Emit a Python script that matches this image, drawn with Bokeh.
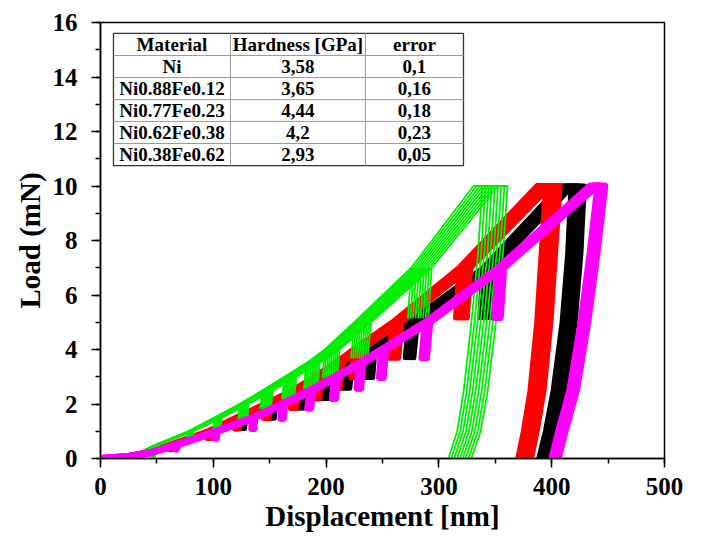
from bokeh.plotting import figure
from bokeh.models import Range1d, SingleIntervalTicker
from bokeh.embed import file_html
from bokeh.resources import INLINE
from bokeh.core.properties import value

# ---------------- data ----------------
START_LOADS = [0.0, 0.07, 0.22]                      # mN, initial loading
STEP_LOADS = [0.5, 1.0, 1.5, 2.0, 2.5, 3.0, 3.5, 4.0, 5.0, 7.0, 10.0]  # mN, cycle peaks
STEP_BOTTOMS = [0.35, 0.75, 1.1, 1.48, 1.85, 2.2, 2.58, 2.97, 3.7, 5.17]  # mN, partial unload ends
UNLOAD_LOADS = [7.5, 5.0, 2.5, 1.0, 0.0]             # mN, final unloading

# black
black_start_h = [0, 23, 43]
black_peak_h = [65, 100, 127, 153, 179, 201, 220, 240, 277, 344, 413]
black_bottom_h = [64, 99, 126, 152, 177, 199, 218, 238, 274, 341]
black_bottom_P = STEP_BOTTOMS
black_hold_h = 423
black_unload_h = [420, 415, 407, 400, 394]
black_scales = [0.986, 0.993, 1.0, 1.007, 1.014]

# red
red_start_h = [0, 22, 42]
red_peak_h = [63, 97, 122, 148, 173, 193, 211, 228, 263, 323, 393]
red_bottom_h = [62, 96, 121, 147, 171, 191, 209, 226, 260, 320]
red_bottom_P = STEP_BOTTOMS
red_hold_h = 401
red_unload_h = [397, 393, 387, 381, 376]
red_scales = [0.985, 0.993, 1.0, 1.007, 1.015]

# green
green_start_h = [0, 20, 35]
green_peak_h = [50, 80, 104, 127, 148, 168, 188, 205, 232, 284, 341]
green_bottom_h = [46, 79, 103, 126, 146, 166, 186, 203, 229, 281]
green_bottom_P = [0.02, 0.75, 1.1, 1.48, 1.85, 2.2, 2.58, 2.97, 3.7, 5.17]
green_hold_h = 349
green_unload_h = [345, 339, 332, 326, 318]
green_scales = [0.97, 0.978, 0.986, 0.994, 1.002, 1.01, 1.018, 1.026, 1.034]

# magenta
magenta_start_h = [0, 24, 45]
magenta_peak_h = [68, 103, 136, 162, 187, 209, 231, 251, 290, 355, 437]
magenta_bottom_h = [67, 102, 135, 161, 185, 207, 229, 249, 287, 352]
magenta_bottom_P = STEP_BOTTOMS
magenta_hold_h = 444
magenta_unload_h = [437, 429, 419, 409, 403]
magenta_scales = [0.993, 1.0, 1.007]

# table
table_headers = ["Material", "Hardness [GPa]", "error"]
materials = ["Ni", "Ni0.88Fe0.12", "Ni0.77Fe0.23", "Ni0.62Fe0.38", "Ni0.38Fe0.62"]
hardness = ["3,58", "3,65", "4,44", "4,2", "2,93"]
errors = ["0,1", "0,16", "0,18", "0,23", "0,05"]

# ---------------- helpers ----------------
def build_path(start_h, peak_h, bottom_h, bottom_P, hold_h, unload_h):
    xs = list(start_h)
    ys = list(START_LOADS)
    for i, P in enumerate(STEP_LOADS):
        xs.append(peak_h[i]); ys.append(P)
        if i < len(bottom_h):
            xs.append(bottom_h[i]); ys.append(bottom_P[i])
            xs.append(peak_h[i]); ys.append(P)
    xs.append(hold_h); ys.append(STEP_LOADS[-1])
    xs += list(unload_h); ys += list(UNLOAD_LOADS)
    return xs, ys

FONT = value("Liberation Serif")

p = figure(width=696, height=539, output_backend="svg", toolbar_location=None,
           x_range=Range1d(0, 500), y_range=Range1d(0, 16),
           min_border_left=100, min_border_right=32, min_border_top=22, min_border_bottom=81)
p.grid.visible = False
p.outline_line_color = "black"
p.outline_line_width = 1.5
p.background_fill_color = "white"
p.border_fill_color = "white"

series = [
    (build_path(black_start_h, black_peak_h, black_bottom_h, black_bottom_P, black_hold_h, black_unload_h), black_scales, "black", 5),
    (build_path(red_start_h, red_peak_h, red_bottom_h, red_bottom_P, red_hold_h, red_unload_h), red_scales, "#ff0000", 6),
    (build_path(green_start_h, green_peak_h, green_bottom_h, green_bottom_P, green_hold_h, green_unload_h), green_scales, "#00ee00", 1.8),
    (build_path(magenta_start_h, magenta_peak_h, magenta_bottom_h, magenta_bottom_P, magenta_hold_h, magenta_unload_h), magenta_scales, "#ff00ff", 7),
]
for (xs, ys), scales, color, lw in series:
    for s in scales:
        p.line([x * s for x in xs], ys, line_color=color, line_width=lw, line_join="round")

# table (drawn inside the plot area)
tx = [11.5, 115.2, 234.9, 321.8]
ty = [15.60, 14.79, 13.98, 13.17, 12.37, 11.56, 10.75]
p.quad(left=[tx[0]], right=[tx[-1]], bottom=[ty[-1]], top=[ty[0]],
       fill_color="white", line_color="#333333", line_width=1.3)
p.segment(x0=[tx[0]] * (len(ty) - 2), x1=[tx[-1]] * (len(ty) - 2), y0=ty[1:-1], y1=ty[1:-1],
          line_color="#999999", line_width=1)
p.segment(x0=tx[1:-1], x1=tx[1:-1], y0=[ty[-1]] * 2, y1=[ty[0]] * 2,
          line_color="#999999", line_width=1)
cx = [(tx[i] + tx[i + 1]) / 2 for i in range(3)]
cy = [(ty[i] + ty[i + 1]) / 2 for i in range(6)]
cols = [[table_headers[0]] + materials, [table_headers[1]] + hardness, [table_headers[2]] + errors]
for j in range(3):
    p.text(x=[cx[j]] * 6, y=cy, text=cols[j], text_align="center", text_baseline="middle",
           text_font=FONT, text_font_style="bold", text_font_size="19px", text_color="black")

# axes
p.xaxis.ticker = SingleIntervalTicker(interval=100, num_minor_ticks=2)
p.yaxis.ticker = SingleIntervalTicker(interval=2, num_minor_ticks=2)
for ax in (p.xaxis[0], p.yaxis[0]):
    ax.axis_line_width = 1.5
    ax.major_tick_line_width = 1.5
    ax.minor_tick_line_width = 1.5
    ax.major_tick_in = 0
    ax.major_tick_out = 9
    ax.minor_tick_in = 0
    ax.minor_tick_out = 5
    ax.major_label_text_font = "Liberation Serif"
    ax.major_label_text_font_style = "bold"
    ax.major_label_text_font_size = "25px"
    ax.major_label_text_color = "black"
    ax.axis_label_text_font = "Liberation Serif"
    ax.axis_label_text_font_style = "bold"
    ax.axis_label_text_font_size = "29px"
    ax.axis_label_text_color = "black"
p.xaxis.axis_label = "Displacement [nm]"
p.yaxis.axis_label = "Load (mN)"
p.xaxis.major_label_standoff = 10
p.yaxis.major_label_standoff = 14
p.xaxis.axis_label_standoff = 2
p.yaxis.axis_label_standoff = 4

open("out.html", "w").write(file_html(p, INLINE))
